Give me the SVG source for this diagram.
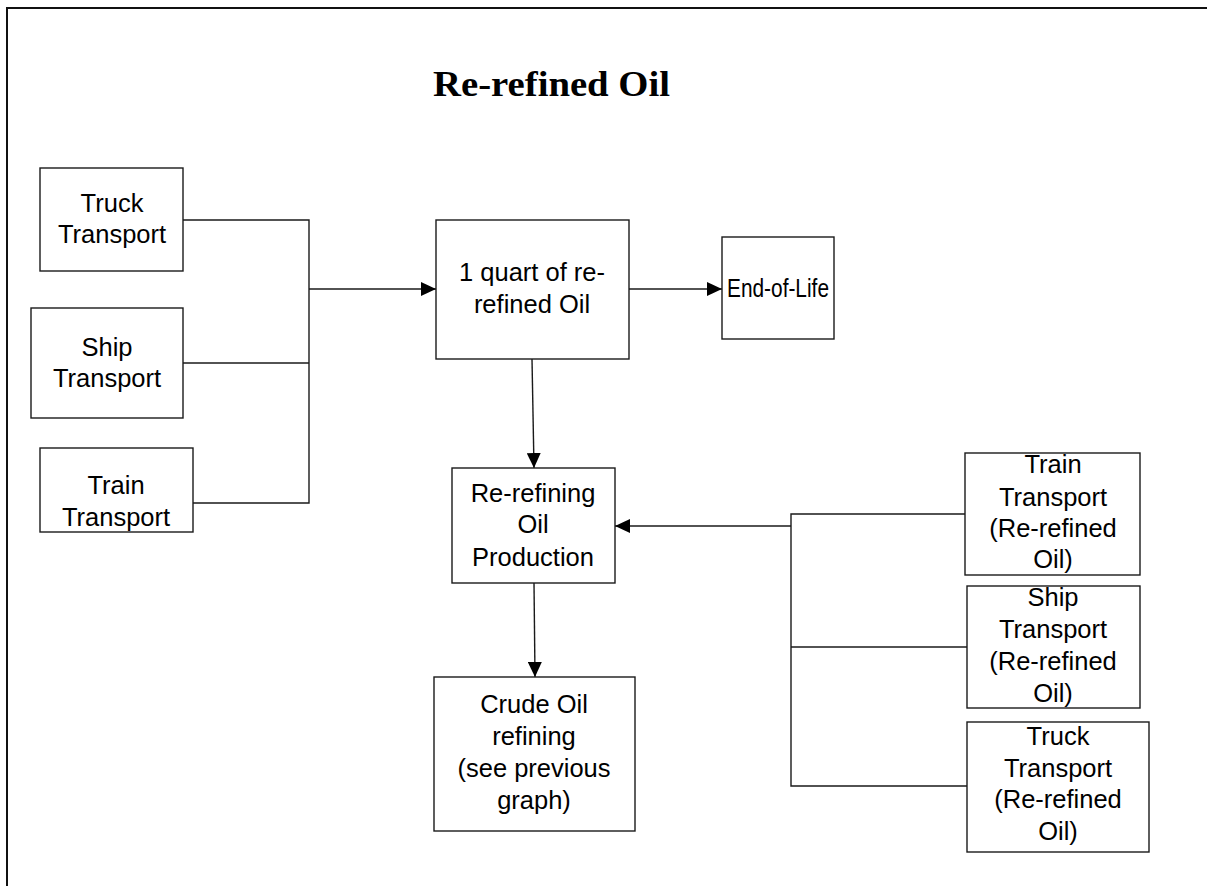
<svg xmlns="http://www.w3.org/2000/svg" width="1207" height="886" viewBox="0 0 1207 886">
<defs>
<marker id="ah" markerWidth="15" markerHeight="14" refX="15" refY="7" orient="auto" markerUnits="userSpaceOnUse">
<path d="M0,0 L15,7 L0,14 Z" fill="#000"/>
</marker>
<style>
.box{fill:#fff;stroke:#1a1a1a;stroke-width:1.4}
.t{font-family:"Liberation Sans",Arial,sans-serif;font-size:25.5px;fill:#000;text-anchor:middle}
.c{fill:none;stroke:#1a1a1a;stroke-width:1.4}
.title{font-family:"Liberation Serif","Times New Roman",serif;font-weight:bold;font-size:36px;fill:#000}
</style>
</defs>
<rect x="0" y="0" width="1207" height="886" fill="#fff"/>
<rect x="7" y="8" width="1210" height="900" fill="none" stroke="#111" stroke-width="2"/>
<text class="title" x="433" y="96" textLength="237" lengthAdjust="spacingAndGlyphs">Re-refined Oil</text>

<g id="connectors">
<polyline class="c" points="183,220 309,220 309,503 193,503"/>
<line class="c" x1="183" y1="363" x2="309" y2="363"/>
<line class="c" x1="309" y1="289" x2="436" y2="289" marker-end="url(#ah)"/>
<line class="c" x1="629" y1="289" x2="722" y2="289" marker-end="url(#ah)"/>
<line class="c" x1="532" y1="359" x2="534" y2="468" marker-end="url(#ah)"/>
<line class="c" x1="534" y1="583" x2="535" y2="677" marker-end="url(#ah)"/>
<polyline class="c" points="965,514 791,514 791,786 967,786"/>
<line class="c" x1="791" y1="647" x2="967" y2="647"/>
<line class="c" x1="791" y1="526" x2="615" y2="526" marker-end="url(#ah)"/>
</g>

<g id="truck">
<rect class="box" x="40" y="168" width="143" height="103"/>
<text class="t" x="112" y="212">Truck</text>
<text class="t" x="112" y="243">Transport</text>
</g>
<g id="ship">
<rect class="box" x="31" y="308" width="152" height="110"/>
<text class="t" x="107" y="356">Ship</text>
<text class="t" x="107" y="387">Transport</text>
</g>
<g id="train">
<rect class="box" x="40" y="448" width="153" height="84"/>
<text class="t" x="116" y="494">Train</text>
<text class="t" x="116" y="526">Transport</text>
</g>
<g id="quart">
<rect class="box" x="436" y="220" width="193" height="139"/>
<text class="t" x="532" y="281">1 quart of re-</text>
<text class="t" x="532" y="313">refined Oil</text>
</g>
<g id="eol">
<rect class="box" x="722" y="237" width="112" height="102"/>
<text class="t" x="727" y="297" style="text-anchor:start" textLength="102" lengthAdjust="spacingAndGlyphs">End-of-Life</text>
</g>
<g id="rerefining">
<rect class="box" x="452" y="468" width="163" height="115"/>
<text class="t" x="533" y="502">Re-refining</text>
<text class="t" x="533" y="533">Oil</text>
<text class="t" x="533" y="566">Production</text>
</g>
<g id="crude">
<rect class="box" x="434" y="677" width="201" height="154"/>
<text class="t" x="534" y="713">Crude Oil</text>
<text class="t" x="534" y="745">refining</text>
<text class="t" x="534" y="777">(see previous</text>
<text class="t" x="534" y="809">graph)</text>
</g>
<g id="train-rr">
<rect class="box" x="965" y="453" width="175" height="122"/>
<text class="t" x="1053" y="473">Train</text>
<text class="t" x="1053" y="506">Transport</text>
<text class="t" x="1053" y="537">(Re-refined</text>
<text class="t" x="1053" y="568">Oil)</text>
</g>
<g id="ship-rr">
<rect class="box" x="967" y="586" width="173" height="122"/>
<text class="t" x="1053" y="606">Ship</text>
<text class="t" x="1053" y="638">Transport</text>
<text class="t" x="1053" y="670">(Re-refined</text>
<text class="t" x="1053" y="702">Oil)</text>
</g>
<g id="truck-rr">
<rect class="box" x="967" y="722" width="182" height="130"/>
<text class="t" x="1058" y="745">Truck</text>
<text class="t" x="1058" y="777">Transport</text>
<text class="t" x="1058" y="808">(Re-refined</text>
<text class="t" x="1058" y="840">Oil)</text>
</g>
</svg>
